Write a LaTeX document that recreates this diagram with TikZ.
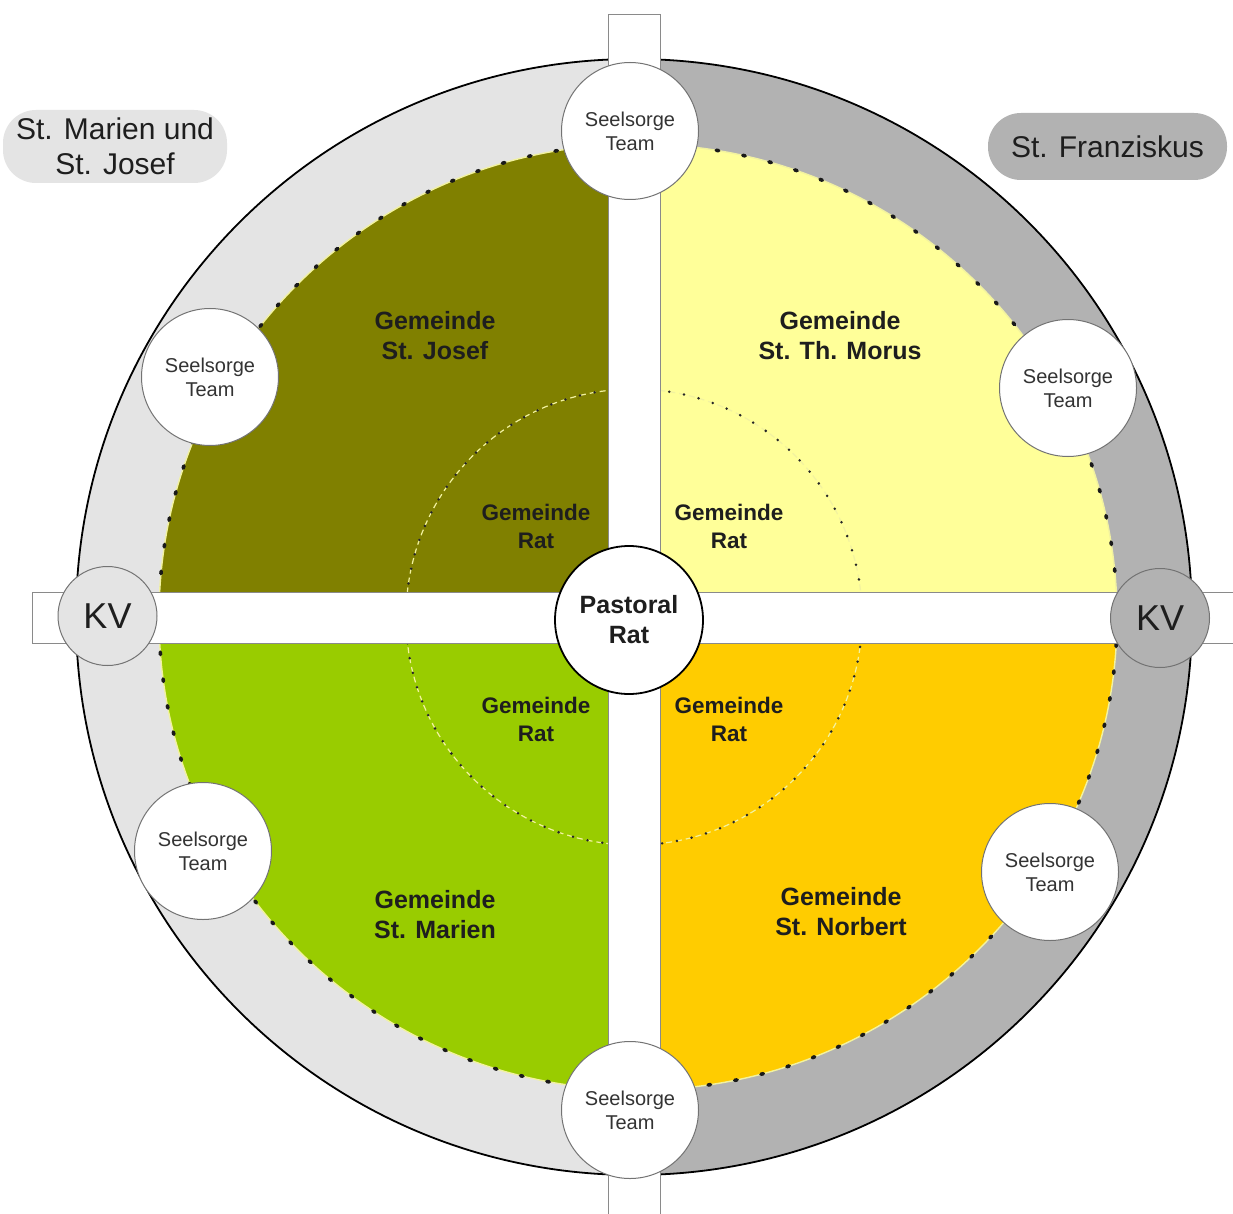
\documentclass[tikz,border=0pt]{standalone}
\usepackage{fontspec}
\setmainfont{Liberation Sans}
\definecolor{lgray}{HTML}{E4E4E4}
\definecolor{dgray}{HTML}{B2B2B2}
\definecolor{olivec}{HTML}{808000}
\definecolor{lyellow}{HTML}{FFFF99}
\definecolor{lgreen}{HTML}{99CC00}
\definecolor{gold}{HTML}{FFCC00}
\definecolor{txt}{HTML}{1E1E1E}
\definecolor{barline}{HTML}{8A8A8A}
\definecolor{paleline}{HTML}{F2F2A0}
\begin{document}
\begin{tikzpicture}[x=1pt,y=-1pt,
  softline/.style={draw=paleline, line width=1.4pt},
  softdash/.style={draw=paleline, line width=1.2pt, dash pattern=on 6pt off 4pt},
  dotline/.style={draw=black!90, line width=3.6pt, line cap=round, dash pattern=on 2.5pt off 24.5pt},
  dotlineinner/.style={draw=black!85, line width=2.8pt, line cap=round, dash pattern=on 0pt off 15pt},
  barstyle/.style={draw=barline, line width=1pt},
  team/.style={circle, fill=white, draw=black!55, line width=1pt, minimum size=137pt, inner sep=0pt, align=center, text=black!80, font=\fontsize{20}{24}\selectfont},
  kv/.style={circle, draw=black!55, line width=1pt, minimum size=99pt, inner sep=0pt, text=txt, font=\fontsize{36}{40}\selectfont},
  gem/.style={align=center, text=txt, font=\bfseries\fontsize{25}{30}\selectfont},
  rat/.style={align=center, text=txt, font=\bfseries\fontsize{22.5}{28}\selectfont},
  region/.style={rounded corners=33pt, inner sep=0pt, align=center, text=txt, font=\fontsize{30}{35}\selectfont}
]
\clip (0,0) rectangle (1233,1214);
\fill[white] (0,0) rectangle (1233,1214);
\coordinate (C) at (634,617);
\coordinate (Q) at (638,617);
% outer ring halves
\fill[lgray] (C) -- ++(90:558) arc[start angle=90,end angle=270,radius=558] -- cycle;
\fill[dgray] (C) -- ++(270:558) arc[start angle=270,end angle=450,radius=558] -- cycle;
\draw[black, line width=1.8pt] (C) circle[radius=558];
% quadrants
\fill[olivec] (Q) -- ++(-479,0) arc[start angle=180,end angle=270,x radius=479,y radius=473] -- cycle;
\fill[lyellow] (Q) -- ++(0,-473) arc[start angle=270,end angle=360,x radius=479,y radius=473] -- cycle;
\fill[gold] (Q) -- ++(479,0) arc[start angle=0,end angle=90,x radius=479,y radius=473] -- cycle;
\fill[lgreen] (Q) -- ++(0,473) arc[start angle=90,end angle=180,x radius=479,y radius=473] -- cycle;
% dotted borders
\draw[softline] (Q) ellipse[x radius=479,y radius=473];
\draw[dotline] (Q) ellipse[x radius=479,y radius=473];
\draw[softdash] (C) circle[radius=228];
\draw[dotlineinner] (C) circle[radius=228];
% bars
\fill[white] (608,15) rectangle (660,1230);
\fill[white] (32,592) rectangle (1240,643);
\draw[barstyle] (608,1230) -- (608,15) -- (660,15) -- (660,1230);
\draw[barstyle] (1240,592) -- (32,592) -- (32,643) -- (1240,643);
% region labels
\node[region, fill=lgray, minimum width=224pt, minimum height=73pt] (rw) at (115,146.5) {St. Marien und\\St. Josef};
\node[region, fill=dgray, minimum width=239pt, minimum height=67pt] (re) at (1107.5,146.5) {St. Franziskus};
% Seelsorge teams
\node[team] (t1) at (630,131) {Seelsorge\\Team};
\node[team] (t2) at (210,377) {Seelsorge\\Team};
\node[team] (t3) at (1068,388) {Seelsorge\\Team};
\node[team] (t4) at (203,851) {Seelsorge\\Team};
\node[team] (t5) at (1050,872) {Seelsorge\\Team};
\node[team] (t6) at (630,1110) {Seelsorge\\Team};
% KV
\node[kv, fill=lgray] (kvl) at (107.5,616) {KV};
\node[kv, fill=dgray] (kvr) at (1160,618) {KV};
% Pastoral Rat
\node[circle, fill=white, draw=black, line width=1.8pt, minimum size=148pt, inner sep=0pt, align=center, text=txt, font=\bfseries\fontsize{25}{30}\selectfont] (pr) at (629,620) {Pastoral\\Rat};
% Gemeinde labels
\node[gem] (g1) at (435,336) {Gemeinde\\St. Josef};
\node[gem] (g2) at (840,336) {Gemeinde\\St. Th. Morus};
\node[gem] (g3) at (435,915) {Gemeinde\\St. Marien};
\node[gem] (g4) at (841,912) {Gemeinde\\St. Norbert};
% Gemeinde Rat labels
\node[rat] (r1) at (536,526) {Gemeinde\\Rat};
\node[rat] (r2) at (729,526) {Gemeinde\\Rat};
\node[rat] (r3) at (536,719) {Gemeinde\\Rat};
\node[rat] (r4) at (729,719) {Gemeinde\\Rat};
\end{tikzpicture}
\end{document}
